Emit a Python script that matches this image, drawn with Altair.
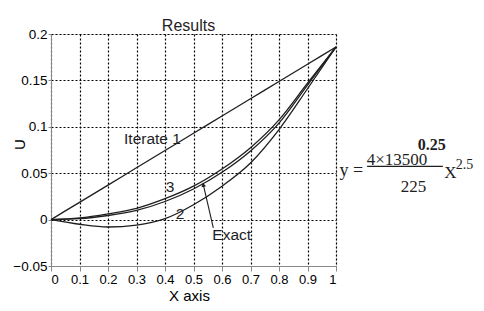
import altair as alt
import pandas as pd

# ---- data ----
x_vals = [0.0, 0.1, 0.2, 0.3, 0.4, 0.5, 0.6, 0.7, 0.8, 0.9, 1.0]
iterate1 = [0.0, 0.0186, 0.0372, 0.0558, 0.0744, 0.093, 0.1116, 0.1302, 0.1488, 0.1674, 0.186]
iterate2 = [0.0, -0.005, -0.008, -0.006, 0.001, 0.016, 0.036, 0.061, 0.097, 0.141, 0.186]
iterate3 = [0.0, 0.0018, 0.0062, 0.0121, 0.0225, 0.036, 0.0545, 0.0775, 0.1075, 0.147, 0.186]
exact = [0.0, 0.001, 0.0044, 0.0099, 0.0195, 0.033, 0.051, 0.074, 0.104, 0.145, 0.186]

x_ticks = [0, 0.1, 0.2, 0.3, 0.4, 0.5, 0.6, 0.7, 0.8, 0.9, 1]
y_ticks = [-0.05, 0, 0.05, 0.1, 0.15, 0.2]

label_text = ["Iterate 1", "3", "2", "Exact"]
label_x = [0.356, 0.4175, 0.4526, 0.634]
label_y = [0.0869, 0.0351, 0.006, -0.0163]

arrow_from = (0.5695, -0.009)
arrow_to = (0.5344, 0.0376)

# equation pieces: text, x, y, size, weight
eq_text = ["y =", "4\u00d713500", "0.25", "225", "X", "2.5"]
eq_x = [1.012, 1.108, 1.287, 1.227, 1.38, 1.42]
eq_y = [0.0470, 0.0592, 0.0753, 0.0297, 0.0448, 0.0545]
eq_size = [18, 17, 16, 17, 17, 14]
eq_weight = ["normal", "normal", "bold", "normal", "normal", "normal"]
frac_bar = (1.109, 1.375, 0.0574)

INK = "#1e1e1e"

rows = []
for name, ys in [("Iterate 1", iterate1), ("2", iterate2), ("3", iterate3), ("Exact", exact)]:
    for xv, yv in zip(x_vals, ys):
        rows.append({"x": xv, "u": yv, "series": name})
df = pd.DataFrame(rows)

xscale = alt.Scale(domain=[0, 1], nice=False, zero=False)
yscale = alt.Scale(domain=[-0.05, 0.2], nice=False, zero=False)

grid_kw = dict(grid=True, gridColor="#000000", gridDash=[2, 2], gridWidth=1.2, gridOpacity=1)

xaxis = alt.Axis(values=x_ticks, format="~g", title="X axis",
                 tickSize=5, labelPadding=2, titleX=138, titleY=34,
                 titleBaseline="alphabetic", titleFontSize=15,
                 titleFontWeight="normal", labelFontSize=13, **grid_kw)
yaxis = alt.Axis(values=y_ticks, format="~g", title="U",
                 tickSize=3, labelPadding=1, titleX=-27, titleY=110,
                 titleBaseline="alphabetic", titleAngle=270, titleFontSize=15,
                 titleFontWeight="normal", labelFontSize=13.5, **grid_kw)


def X(field="x"):
    return alt.X(f"{field}:Q", scale=xscale, axis=xaxis)


def Y(field="u"):
    return alt.Y(f"{field}:Q", scale=yscale, axis=yaxis)


lines = alt.Chart(df).mark_line(color=INK, strokeWidth=1.3, interpolate="monotone").encode(
    x=X(), y=Y(), detail="series:N")

labels_df = pd.DataFrame({"x": label_x, "u": label_y, "t": label_text})
labels = alt.Chart(labels_df).mark_text(font="Liberation Sans", fontSize=15.5, color=INK,
                                        align="center", baseline="middle").encode(
    x=X(), y=Y(), text="t:N")

arrow_df = pd.DataFrame({"x": [arrow_from[0]], "u": [arrow_from[1]],
                         "x2": [arrow_to[0]], "u2": [arrow_to[1]]})
arrow = alt.Chart(arrow_df).mark_rule(color=INK, strokeWidth=1.1).encode(
    x=X(), y=Y(), x2="x2:Q", y2="u2:Q")
head_df = pd.DataFrame({"x": [arrow_to[0]], "u": [arrow_to[1]]})
head = alt.Chart(head_df).mark_point(shape="triangle-up", filled=True, color=INK,
                                     size=22, angle=347, opacity=1).encode(
    x=X(), y=Y())

eq_layers = []
for t, ex, ey, es, ew in zip(eq_text, eq_x, eq_y, eq_size, eq_weight):
    d = pd.DataFrame({"x": [ex], "u": [ey], "t": [t]})
    eq_layers.append(
        alt.Chart(d).mark_text(font="Liberation Serif", fontSize=es, fontWeight=ew,
                               color=INK, align="left", baseline="alphabetic").encode(
            x=X(), y=Y(), text="t:N"))

bar_df = pd.DataFrame({"x": [frac_bar[0]], "x2": [frac_bar[1]], "u": [frac_bar[2]]})
bar = alt.Chart(bar_df).mark_rule(color=INK, strokeWidth=1.1).encode(
    x=X(), x2="x2:Q", y=Y())

chart = alt.layer(lines, labels, arrow, head, bar, *eq_layers).properties(
    width=285, height=232,
    title=alt.TitleParams("Results", fontSize=16, font="Liberation Sans",
                          fontWeight="normal", color=INK, offset=6, dx=-5, dy=13),
    autosize=alt.AutoSizeParams(type="none"),
    padding={"left": 43, "top": 26, "right": 140, "bottom": 37},
).configure_view(
    stroke=INK, strokeWidth=1.3
).configure_axis(
    domainColor=INK, domainWidth=1.3, tickColor=INK, labelColor=INK, titleColor=INK,
    labelFont="Liberation Sans", titleFont="Liberation Sans",
).configure(background="white")

chart.save("out.html", embed_options={"renderer": "svg", "actions": False})
